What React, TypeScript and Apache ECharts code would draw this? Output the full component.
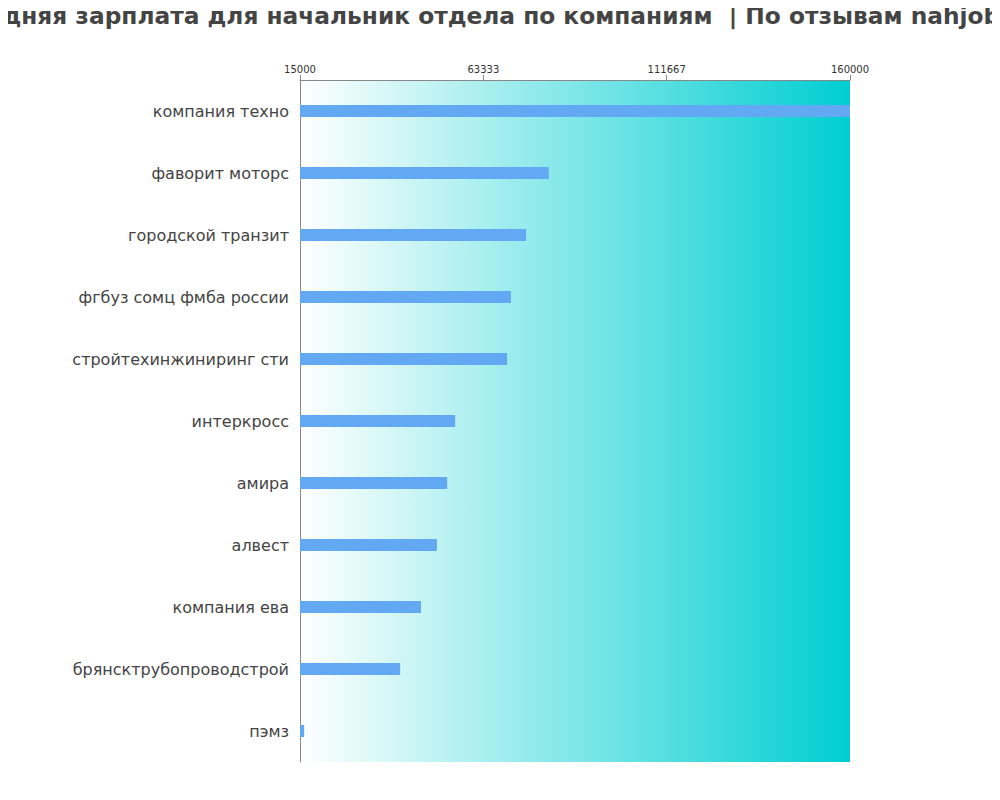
import React, { useEffect, useRef } from "react";
import * as echarts from "echarts";

const categories = [
  "компания техно",
  "фаворит моторс",
  "городской транзит",
  "фгбуз сомц фмба россии",
  "стройтехинжиниринг сти",
  "интеркросс",
  "амира",
  "алвест",
  "компания ева",
  "брянсктрубопроводстрой",
  "пэмз",
];
const salaries = [160000, 80600, 74600, 70600, 69600, 55900, 53800, 51100, 46900, 41400, 16100];
const axisMin = 15000;
const axisMax = 160000;
const titleText = "Средняя зарплата для начальник отдела по компаниям  | По отзывам nahjob.ru";

export default function App() {
  const ref = useRef<HTMLDivElement>(null);
  useEffect(() => {
    if (!ref.current) return;
    const chart = echarts.init(ref.current, undefined, { renderer: "svg" });
    chart.setOption({
      animation: false,
      title: {
        text: titleText,
        left: 495,
        top: 4,
        padding: 0,
        textAlign: "center",
        textStyle: { fontFamily: "DejaVu Sans", fontSize: 23.3, fontWeight: "bold", color: "#444" },
      },
      grid: {
        left: 300,
        right: 150,
        top: 80,
        bottom: 38,
        show: true,
        borderWidth: 0,
        backgroundColor: new echarts.graphic.LinearGradient(0, 0, 1, 0, [
          { offset: 0, color: "#ffffff" },
          { offset: 1, color: "#00ced1" },
        ]),
      },
      xAxis: {
        type: "value",
        position: "top",
        min: axisMin,
        max: axisMax,
        interval: (axisMax - axisMin) / 3,
        axisLine: { show: true, lineStyle: { color: "#888" } },
        axisTick: { show: true, lineStyle: { color: "#888" } },
        splitLine: { show: false },
        axisLabel: {
          fontFamily: "DejaVu Sans",
          fontSize: 10,
          color: "#333",
          margin: 6,
          formatter: (v: number) => String(Math.round(v)),
        },
      },
      yAxis: {
        type: "category",
        inverse: true,
        data: categories,
        axisLine: { show: true, lineStyle: { color: "#888" } },
        axisTick: { show: false },
        axisLabel: {
          fontFamily: "DejaVu Sans",
          fontSize: 16,
          color: "#444",
          margin: 11,
          verticalAlign: "middle",
          padding: [0, 0, 5, 0],
        },
      },
      series: [
        {
          type: "bar",
          data: salaries,
          barWidth: 12,
          itemStyle: { color: "#62a8f2" },
        },
      ],
    });
    return () => chart.dispose();
  }, []);
  return <div ref={ref} style={{ width: 1000, height: 800, marginLeft: -8, marginTop: -8 }} />;
}
